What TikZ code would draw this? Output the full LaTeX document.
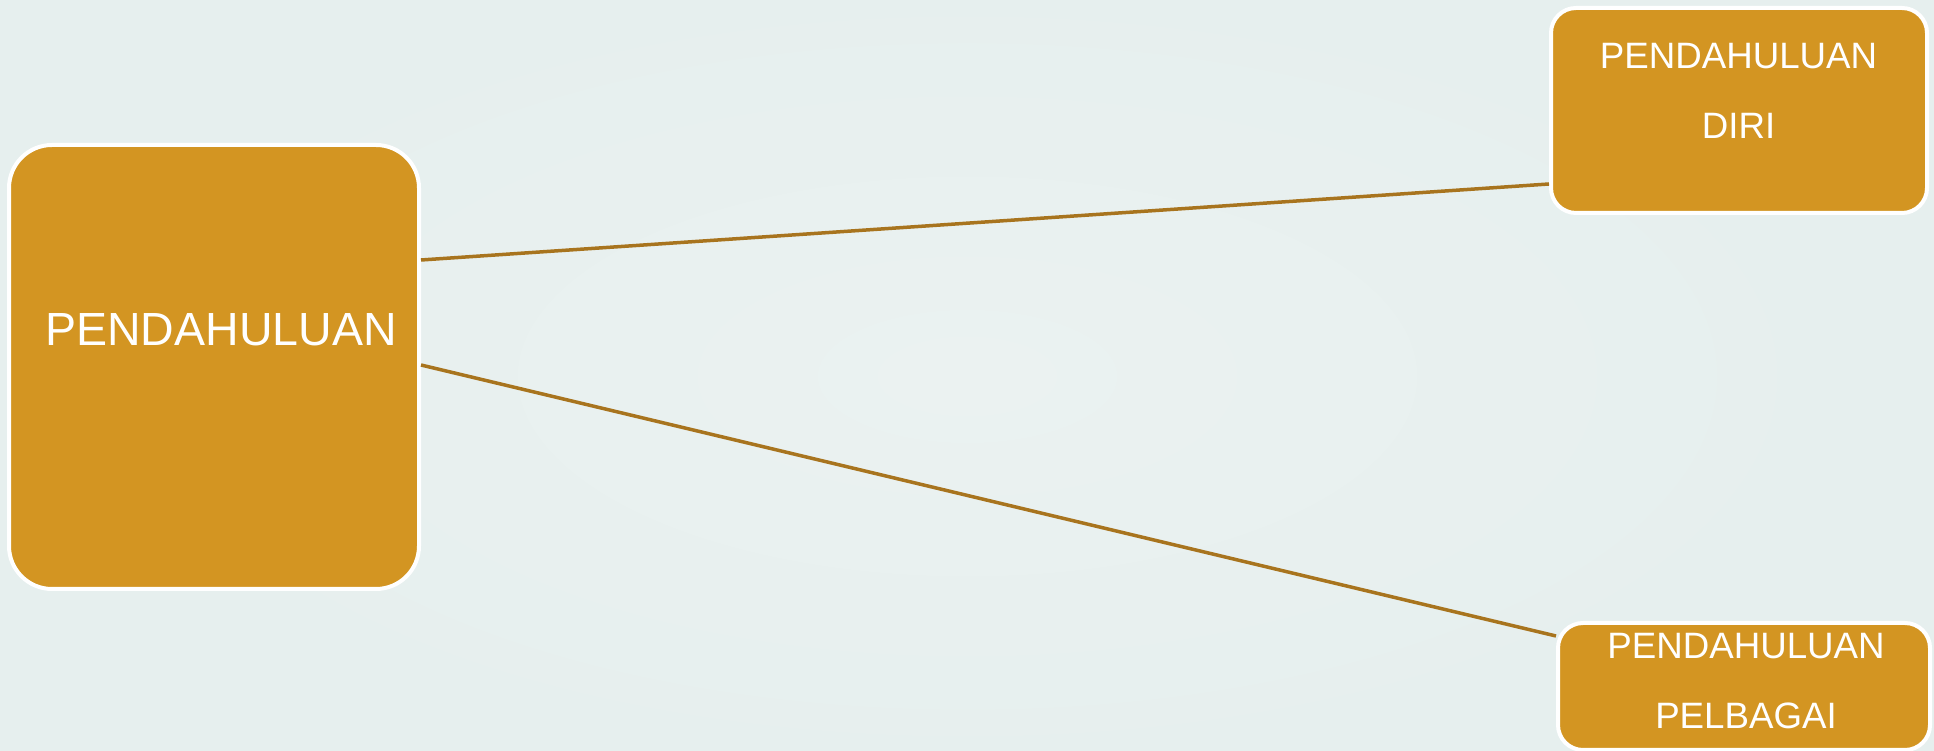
\documentclass[tikz,border=0pt]{standalone}
\usepackage{fontspec}
\setmainfont{Liberation Sans}
\usetikzlibrary{calc}
\definecolor{bgc}{HTML}{E6EFEE}
\definecolor{bgin}{HTML}{EBF2F1}
\definecolor{boxfill}{HTML}{D39522}
\definecolor{linkc}{HTML}{A8741E}
\tikzset{
  box/.style={draw=white, line width=4pt, fill=boxfill, rounded corners=#1, inner sep=0pt},
  bigtxt/.style={text=white, font=\fontsize{46.5}{56}\selectfont, inner sep=0pt},
  smalltxt/.style={text=white, font=\fontsize{36.7}{70}\selectfont, align=center, inner sep=0pt},
  link/.style={draw=linkc, line width=3.5pt}
}
\begin{document}
\begin{tikzpicture}[x=1pt,y=1pt]
\useasboundingbox (0,0) rectangle (1934,751);
\fill[bgc] (0,0) rectangle (1934,751);
\shade[inner color=bgin, outer color=bgc] (967,375) ellipse (900 and 400);
\node[box=43pt, minimum width=410pt, minimum height=444pt] (root) at (214,384) {};
\node[bigtxt] (roottxt) at (221,421) {PENDAHULUAN};
\node[box=25pt, minimum width=376pt, minimum height=205pt] (diri) at (1739,640.5) {};
\node[smalltxt] (diritxt) at (1738.5,660) {PENDAHULUAN\\DIRI};
\node[box=25pt, minimum width=372pt, minimum height=127pt] (pelb) at (1744,64.5) {};
\node[smalltxt] (pelbtxt) at (1746,70) {PENDAHULUAN\\PELBAGAI};
\draw[link] ([yshift=107pt]root.east) -- ([yshift=-73.5pt]diri.west);
\draw[link] ([yshift=2pt]root.east) -- ([yshift=50.5pt]pelb.west);
\end{tikzpicture}
\end{document}
